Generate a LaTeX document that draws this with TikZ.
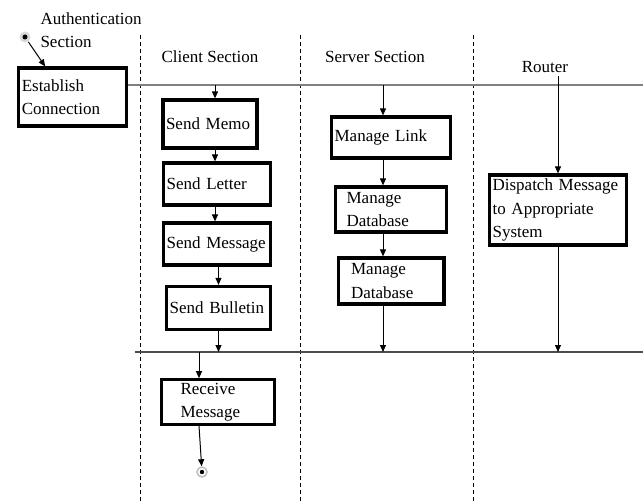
\documentclass[tikz,border=0pt]{standalone}
\usepackage{fontspec}
\setmainfont{Liberation Serif}
\usetikzlibrary{arrows.meta, positioning}

\begin{document}
\begin{tikzpicture}[x=1pt, y=-1pt, ->, >={Triangle[length=7pt,width=6pt]}, node distance=60pt and 10pt, on grid, line width=1pt]
      \tikzstyle{every node}=[font=\fontsize{17}{23.5}\selectfont]
      \tikzstyle{act}=[draw, line width=3.2pt, inner sep=3pt, align=left]
      \tikzstyle{lane}=[-, line width=0.8pt, dash pattern=on 4pt off 3pt]
      \useasboundingbox (0,0) rectangle (643,503);
      % swimlanes
      \foreach \x in {140, 300, 473}
        \draw[lane] (\x,35) -- (\x,503);
      \coordinate (top) at (643,85);
      \coordinate (bot) at (643,352);
      \coordinate (botl) at (135,352);
      \coordinate (cax) at (215,0);
      \coordinate (sax) at (383,0);
      \coordinate (rax) at (558,0);
      \coordinate (rcax) at (199,0);
      % headers
      \node[align=left, inner sep=0pt, anchor=north west] (auth) at (40,12) {Authentication\\Section};
      \node (client) at (210,57) {Client Section};
      \node (server) at (375,57) {Server Section};
      \node (router) at (545,67) {Router};
      % activities
      \node[act, text width=101.5pt, minimum height=58pt] (est) at (72.5,97) {Establish\\Connection};
      \node[act, text width=88pt, minimum height=48pt] (memo) at (210,124) {Send Memo};
      \node[act, text width=100.8pt, minimum height=42pt] (letter) [below right=60pt and 7pt of memo] {Send Letter};
      \node[act, text width=100.8pt, minimum height=42pt] (msg) [below=60pt of letter] {Send Message};
      \node[act, text width=97.8pt, minimum height=43pt] (bull) [below right=64pt and 1.5pt of msg] {Send Bulletin};
      \node[act, text width=106.8pt, minimum height=44pt] (recv) at (218,402) {\hspace*{16pt}Receive\\\hspace*{16pt}Message};
      \node[act, text width=112.8pt, minimum height=41pt] (link) at (391,137.5) {Manage Link};
      \node[act, text width=104.8pt, minimum height=45pt] (db1) [below=72pt of link] {\hspace*{8pt}Manage\\\hspace*{8pt}Database};
      \node[act, text width=99.8pt, minimum height=46pt] (db2) [below=71.5pt of db1] {\hspace*{10pt}Manage\\\hspace*{10pt}Database};
      \node[act, text width=130.8pt, minimum height=70pt] (disp) at (558,210) {Dispatch Message\\to Appropriate\\System};
      % start and end
      \node[circle, fill=gray!30, minimum size=11pt, inner sep=0pt] (start) at (25,37) {};
      \fill[-] (start) circle (2.5pt);
      \node[circle, draw=gray!50, line width=1.5pt, fill=white, minimum size=10pt, inner sep=0pt] (end) at (202,472) {};
      \fill[-] (end) circle (2.2pt);
      % synchronisation bars
      \draw[-, gray, line width=1.5pt] (est.east |- top) -- (top);
      \draw[-, black!70, line width=1.2pt] (botl) -- (bot);
      % flows
      \draw (start) -- ([xshift=28pt]est.north west);
      \draw (top -| cax) -- (memo.north -| cax);
      \draw (memo.south -| cax) -- (letter.north -| cax);
      \draw (letter.south -| cax) -- (msg.north -| cax);
      \draw (msg.south -| bull) -- (bull.north);
      \draw (bull.south) -- (bull.south |- bot);
      \draw (bot -| rcax) -- (recv.north -| rcax);
      \draw (recv.south -| rcax) -- (end);
      \draw (top -| sax) -- (link.north -| sax);
      \draw (link.south -| sax) -- (db1.north -| sax);
      \draw (db1.south -| sax) -- (db2.north -| sax);
      \draw (db2.south -| sax) -- (bot -| sax);
      \draw (router.south -| rax) -- (disp.north -| rax);
      \draw (disp.south -| rax) -- (bot -| rax);
    \end{tikzpicture}
\end{document}
